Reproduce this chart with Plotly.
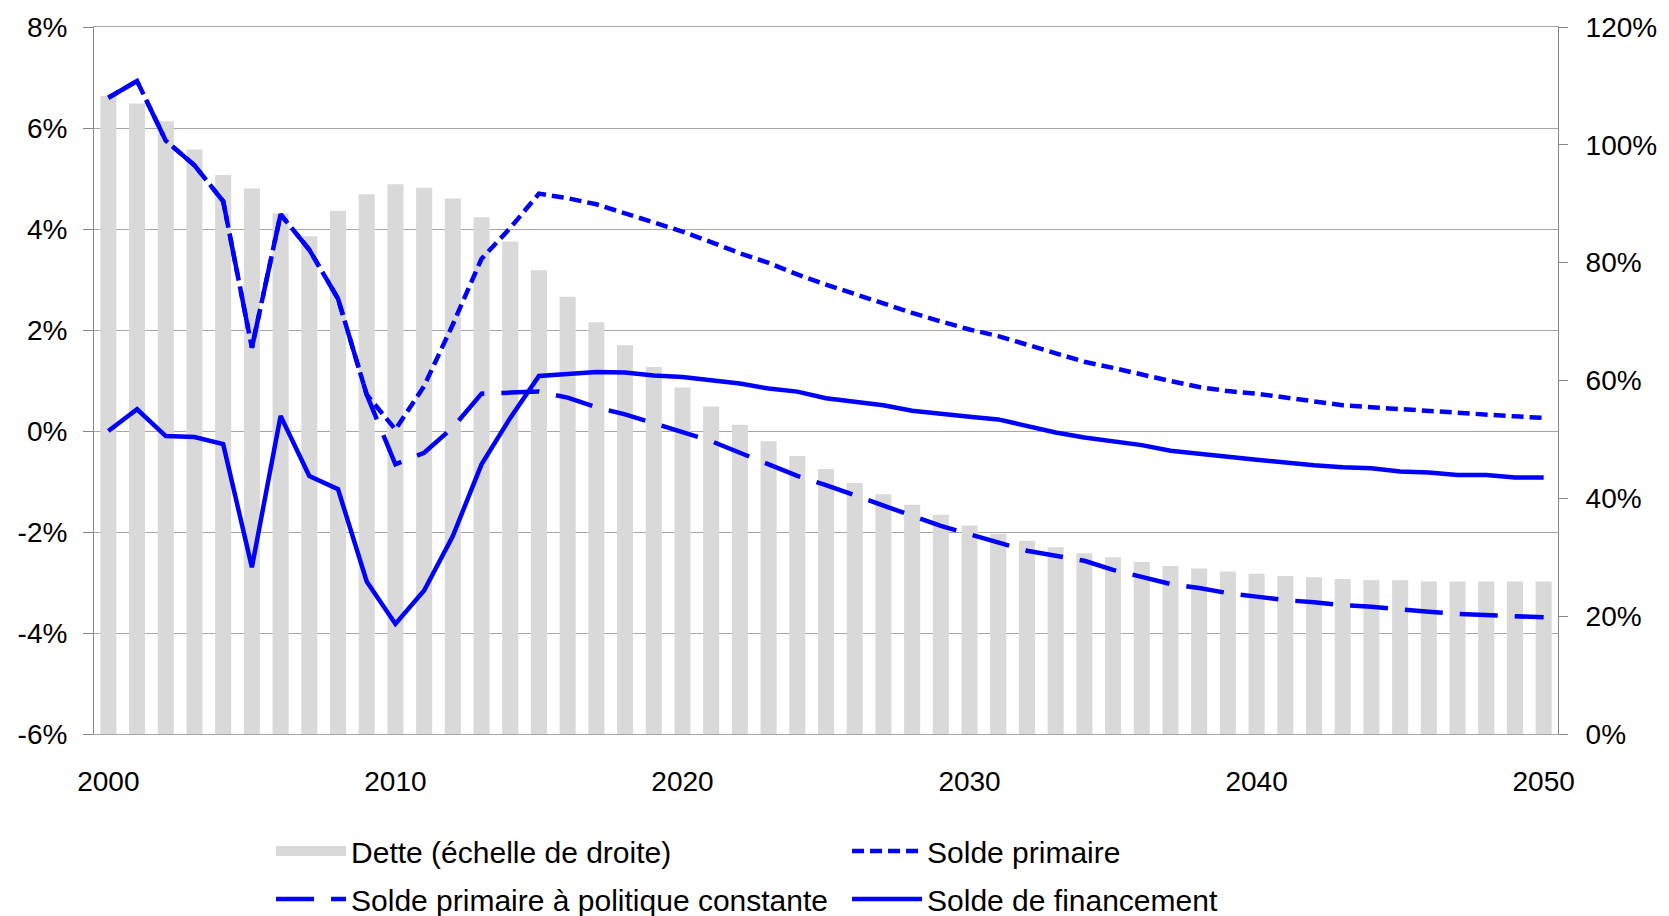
import plotly.graph_objects as go

years = list(range(2000, 2051))

# Dette (échelle de droite), % du PIB
dette = [108.3, 107.0, 104.0, 99.2, 94.9, 92.6, 88.4, 84.5, 88.8, 91.6,
         93.3, 92.7, 90.9, 87.7, 83.6, 78.7, 74.2, 69.9, 66.0, 62.3,
         58.8, 55.6, 52.5, 49.7, 47.2, 45.0, 42.6, 40.7, 38.9, 37.2,
         35.4, 34.0, 32.8, 31.7, 30.7, 30.0, 29.2, 28.5, 28.1, 27.6,
         27.2, 26.8, 26.6, 26.3, 26.1, 26.1, 25.9, 25.9, 25.9, 25.9, 25.9]

solde_primaire = [6.60, 6.93, 5.75, 5.26, 4.55, 1.65, 4.29, 3.59, 2.62, 0.72,
                  0.03, 0.89, 2.11, 3.41, 4.02, 4.70, 4.61, 4.49, 4.31, 4.13,
                  3.95, 3.74, 3.52, 3.33, 3.10, 2.90, 2.71, 2.52, 2.34, 2.17,
                  2.01, 1.88, 1.71, 1.52, 1.37, 1.25, 1.11, 0.99, 0.87, 0.79,
                  0.74, 0.66, 0.59, 0.51, 0.47, 0.43, 0.40, 0.35, 0.32, 0.29, 0.26]

solde_constant = [6.60, 6.93, 5.75, 5.26, 4.55, 1.65, 4.29, 3.59, 2.62, 0.72,
                  -0.66, -0.43, 0.07, 0.74, 0.76, 0.78, 0.66, 0.47, 0.33, 0.16,
                  -0.03, -0.20, -0.43, -0.66, -0.89, -1.07, -1.28, -1.48, -1.68, -1.88,
                  -2.04, -2.21, -2.37, -2.47, -2.57, -2.75, -2.90, -3.03, -3.11, -3.21,
                  -3.28, -3.35, -3.39, -3.45, -3.48, -3.54, -3.58, -3.62, -3.64, -3.67, -3.69]

solde_financement = [0.00, 0.43, -0.10, -0.12, -0.26, -2.70, 0.30, -0.89, -1.15, -2.98,
                     -3.82, -3.16, -2.08, -0.66, 0.26, 1.09, 1.13, 1.17, 1.16, 1.10,
                     1.07, 1.01, 0.94, 0.84, 0.78, 0.65, 0.58, 0.51, 0.40, 0.33,
                     0.28, 0.23, 0.10, -0.03, -0.13, -0.20, -0.28, -0.39, -0.44, -0.51,
                     -0.57, -0.63, -0.68, -0.72, -0.74, -0.80, -0.82, -0.87, -0.87, -0.92, -0.92]

x_ticks = [2000, 2010, 2020, 2030, 2040, 2050]
left_ticks = [-6, -4, -2, 0, 2, 4, 6, 8]
left_labels = ["-6%", "-4%", "-2%", "0%", "2%", "4%", "6%", "8%"]
right_ticks = [0, 20, 40, 60, 80, 100, 120]
right_labels = ["0%", "20%", "40%", "60%", "80%", "100%", "120%"]

names = ["Dette (échelle de droite)", "Solde primaire",
         "Solde primaire à politique constante", "Solde de financement"]

BLUE = "#0000FF"
BAR = "#D9D9D9"
GRID = "#A6A6A6"
AXIS = "#868686"
FONT = "Liberation Sans, Arial, sans-serif"

fig = go.Figure()
# Debt bars (right axis); legend entry shown through a wide swatch proxy below
fig.add_trace(go.Bar(x=years, y=dette, name=names[0], marker=dict(color=BAR, line=dict(width=0)),
                     yaxis="y", legend="legend", legendgroup="dette", showlegend=False))
fig.add_trace(go.Scatter(x=[None], y=[None], name=names[0], mode="lines",
                         line=dict(color=BAR, width=21), yaxis="y", legend="legend",
                         legendgroup="dette", hoverinfo="skip"))
fig.add_trace(go.Scatter(x=years, y=solde_primaire, name=names[1], mode="lines",
                         line=dict(color=BLUE, width=4.5, dash="12px,6px"), yaxis="y2", legend="legend"))
fig.add_trace(go.Scatter(x=years, y=solde_constant, name=names[2], mode="lines",
                         line=dict(color=BLUE, width=4.5, dash="38px,17px"), yaxis="y2", legend="legend2"))
fig.add_trace(go.Scatter(x=years, y=solde_financement, name=names[3], mode="lines",
                         line=dict(color=BLUE, width=4.5), yaxis="y2", legend="legend2"))

legend_common = dict(orientation="h", xref="container", yref="container",
                     xanchor="left", yanchor="middle", font=dict(family=FONT, size=30, color="black"),
                     bgcolor="rgba(0,0,0,0)", entrywidthmode="pixels", entrywidth=491,
                     itemwidth=70, traceorder="normal")

fig.update_layout(
    width=1669, height=916,
    margin=dict(l=94, r=106, t=25, b=182),
    plot_bgcolor="white", paper_bgcolor="white",
    font=dict(family=FONT, size=28, color="black"),
    bargap=0.44,
    showlegend=True,
    legend=dict(x=0.1624, y=1 - 851 / 916, **legend_common),
    legend2=dict(x=0.1624, y=1 - 899 / 916, **legend_common),
    xaxis=dict(range=[1999.5, 2050.5], tickvals=x_ticks, showgrid=False, zeroline=False,
               showline=True, mirror=True, linecolor=GRID, linewidth=1, ticks="",
               ticklabelstandoff=22, tickfont=dict(size=28)),
    yaxis=dict(side="right", range=[0, 120], tickvals=right_ticks, ticktext=right_labels,
               showgrid=False, zeroline=False, showline=True, linecolor=AXIS, linewidth=1,
               ticks="outside", ticklen=9, tickcolor=AXIS, ticklabelstandoff=12,
               tickfont=dict(size=28)),
    yaxis2=dict(side="left", overlaying="y", range=[-6, 8], tickvals=left_ticks, ticktext=left_labels,
                showgrid=True, gridcolor=GRID, gridwidth=1, zeroline=False,
                showline=True, linecolor=AXIS, linewidth=1,
                ticks="outside", ticklen=10, tickcolor=AXIS, ticklabelstandoff=10),
)

fig.write_html("out.html", config={"displayModeBar": False},
               post_script="document.body.style.margin='0';")
